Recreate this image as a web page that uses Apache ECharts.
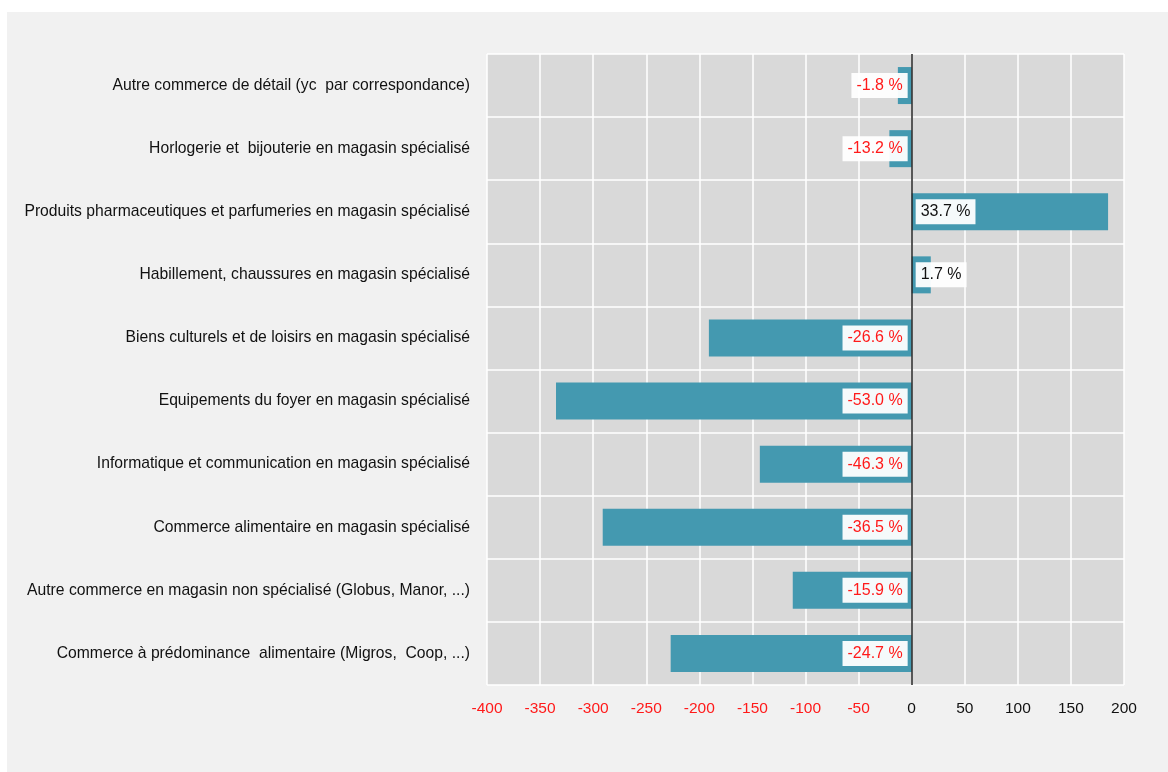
<html>
<head>
    <meta http-equiv="Content-Type" content="text/html; charset=utf-8"/>
    <title>Commerce de détail</title>
    <style type="text/css">
        body {
            margin: 0px;
            padding: 0px;
            background: #ffffff;
        }
        #chart {
            position: absolute;
            left: 7px;
            top: 12px;
            width: 1161px;
            height: 760px;
            background: #f1f1f1;
        }
    </style>
    <script type="text/javascript" src="https://cdn.jsdelivr.net/npm/echarts@6/dist/echarts.min.js"></script>
    <script type="text/javascript">
        var categories = [
            'Autre commerce de détail (yc  par correspondance)',
            'Horlogerie et  bijouterie en magasin spécialisé',
            'Produits pharmaceutiques et parfumeries en magasin spécialisé',
            'Habillement, chaussures en magasin spécialisé',
            'Biens culturels et de loisirs en magasin spécialisé',
            'Equipements du foyer en magasin spécialisé',
            'Informatique et communication en magasin spécialisé',
            'Commerce alimentaire en magasin spécialisé',
            'Autre commerce en magasin non spécialisé (Globus, Manor, ...)',
            'Commerce à prédominance  alimentaire (Migros,  Coop, ...)'
        ];
        var values = [-13, -21, 185, 18, -191, -335, -143, -291, -112, -227];
        var percents = ['-1.8 %', '-13.2 %', '33.7 %', '1.7 %', '-26.6 %', '-53.0 %', '-46.3 %', '-36.5 %', '-15.9 %', '-24.7 %'];
        var tickMin = -400, tickMax = 200, tickStep = 50;

        function init() {
            var myChart = echarts.init(document.getElementById('chart'));
            var data = [];
            for (var i = 0; i < values.length; i++) {
                var neg = values[i] < 0;
                data.push({
                    value: values[i],
                    label: {
                        position: neg ? 'insideRight' : 'insideLeft',
                        color: neg ? '#ff1a1a' : '#111111',
                        formatter: percents[i]
                    }
                });
            }
            var option = {
                animation: false,
                textStyle: {fontFamily: 'Liberation Sans'},
                grid: {left: 480, right: 44, top: 42, bottom: 87, containLabel: false,
                    outerBoundsMode: 'none',
                    show: true, backgroundColor: '#d9d9d9', borderWidth: 0},
                xAxis: {
                    type: 'value',
                    min: tickMin, max: tickMax, interval: tickStep,
                    axisLine: {show: false},
                    axisTick: {show: false},
                    splitLine: {show: true, lineStyle: {color: '#ffffff', width: 1.5}},
                    axisLabel: {
                        fontSize: 15.5, margin: 16,
                        color: function (v) { return v < 0 ? '#ff1a1a' : '#111111'; }
                    }
                },
                yAxis: {
                    type: 'category',
                    inverse: true,
                    data: categories,
                    axisLine: {show: false},
                    axisTick: {show: false},
                    splitLine: {show: true, lineStyle: {color: '#ffffff', width: 1.5}},
                    axisLabel: {fontSize: 15.7, color: '#111111', margin: 17}
                },
                series: [{
                    type: 'bar',
                    data: data,
                    barWidth: 37,
                    itemStyle: {color: '#4499b0'},
                    label: {
                        show: true,
                        fontSize: 16,
                        distance: 4,
                        backgroundColor: 'rgba(255,255,255,0.95)',
                        padding: [5, 5, 4, 5]
                    },
                    markLine: {
                        silent: true,
                        symbol: 'none',
                        label: {show: false},
                        lineStyle: {color: '#222222', type: 'solid', width: 1.5},
                        data: [{xAxis: 0}]
                    }
                }]
            };
            myChart.setOption(option);
        }
    </script>
</head>
<body onLoad="init()">
<div id="chart"></div>
</body>
</html>
